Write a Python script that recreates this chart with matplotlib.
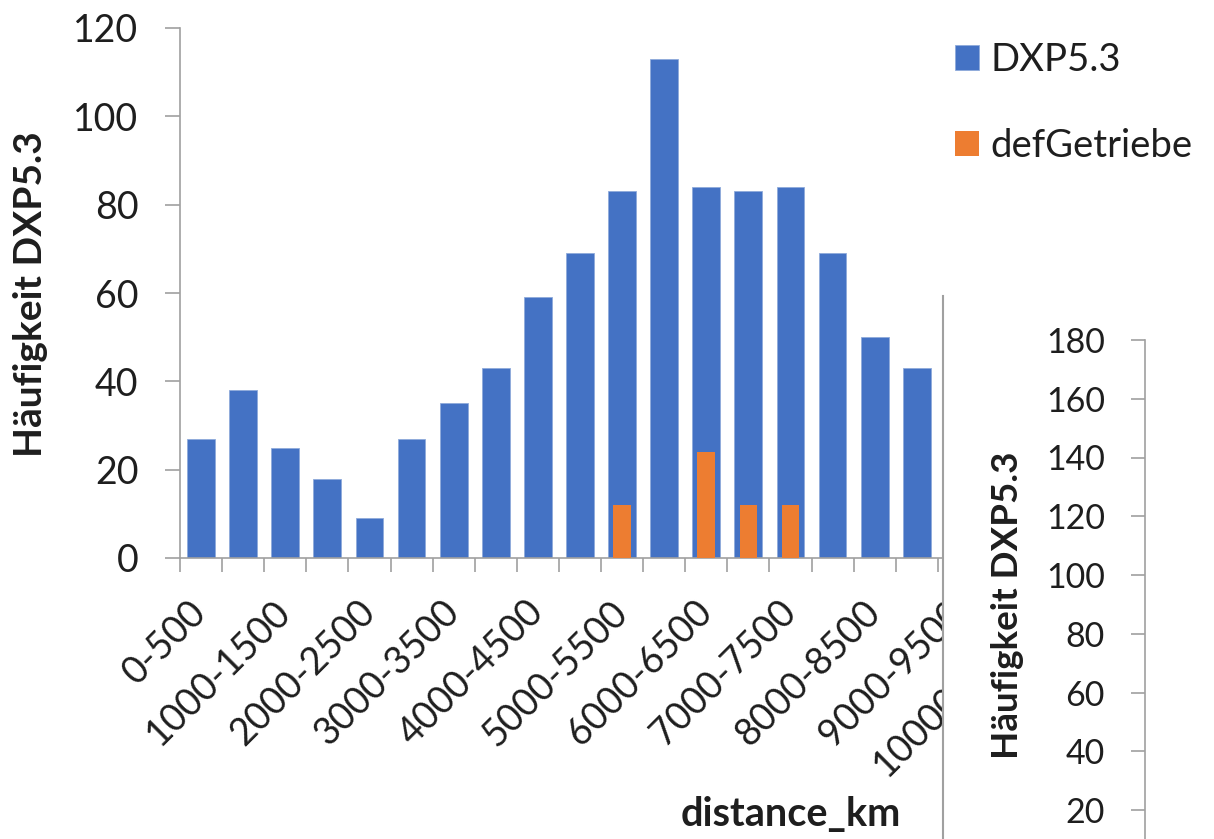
import matplotlib
matplotlib.use('Agg')
import matplotlib.pyplot as plt
import numpy as np

# distance bins (km)
bins = ['0-500', '500-1000', '1000-1500', '1500-2000', '2000-2500',
        '2500-3000', '3000-3500', '3500-4000', '4000-4500', '4500-5000',
        '5000-5500', '5500-6000', '6000-6500', '6500-7000', '7000-7500',
        '7500-8000', '8000-8500', '8500-9000', '9000-9500', '9500-10000',
        '10000-10500']
dxp = [27, 38, 25, 18, 9, 27, 35, 43, 59, 69, 83, 113, 84, 83, 84, 69, 50, 43]
defgetriebe = [0, 0, 0, 0, 0, 0, 0, 0, 0, 0, 12, 0, 24, 12, 12, 0, 0, 0]
yticks_main = [0, 20, 40, 60, 80, 100, 120]
yticks_second = [20, 40, 60, 80, 100, 120, 140, 160, 180]

W, H = 1214, 839
BLUE = '#4472c4'
ORANGE = '#ed7d31'
GRID = '#a0a0a0'
TXT = '#1e1e1e'

plt.rcParams['font.family'] = ['Lato', 'DejaVu Sans']

def rect(x0, y0, x1, y1):
    # pixel box (top-left origin) -> figure fraction
    return [x0 / W, 1 - y1 / H, (x1 - x0) / W, (y1 - y0) / H]

fig = plt.figure(figsize=(W / 100, H / 100), dpi=100)

ax = fig.add_axes(rect(180, 28, 180 + 42.1 * len(bins), 558))
x = np.arange(len(dxp))
ax.bar(x, dxp, width=0.66, color=BLUE, edgecolor='#8eaadb', linewidth=0.6, zorder=2,
       label='DXP5.3')
ax.bar(x, defgetriebe, width=0.42, color=ORANGE, linewidth=0, zorder=3,
       label='defGetriebe')
ax.set_xlim(-0.5, len(bins) - 0.5)
ax.set_ylim(0, 120)
ax.set_yticks(yticks_main)
for s in ['top', 'right']:
    ax.spines[s].set_visible(False)
for s in ['left', 'bottom']:
    ax.spines[s].set_color(GRID)
    ax.spines[s].set_linewidth(1.2)
ax.tick_params(axis='y', length=11, width=1.2, color=GRID, pad=19,
               labelsize=27, labelcolor=TXT)
# tick marks on bin boundaries, labels on every other bin
ax.set_xticks(np.arange(len(bins) + 1) - 0.5)
ax.set_xticklabels([])
ax.tick_params(axis='x', which='major', length=10, width=1.2, color=GRID)
ax.set_xticks(np.arange(0, len(bins), 2), minor=True)
ax.set_xticklabels(bins[::2], minor=True, rotation=45, ha='right', va='center',
                   rotation_mode='anchor')
ax.tick_params(axis='x', which='minor', length=0, pad=35, labelsize=27,
               labelcolor=TXT)

fig.text(31 / W, 1 - 294 / H, 'Häufigkeit DXP5.3', rotation=90, ha='center',
         va='center', fontsize=28, fontweight='bold', color=TXT)
fig.text(791 / W, 1 - 814 / H, 'distance_km', ha='center', va='center',
         fontsize=28.5, fontweight='bold', color=TXT)

fig.legend(loc='upper left', bbox_to_anchor=(955 / W, 1 - 42 / H), frameon=False,
           fontsize=27.5, handlelength=0.63, handleheight=0.63, handletextpad=0.3,
           labelspacing=1.3, borderpad=0, borderaxespad=0, labelcolor=TXT)

# second chart sitting over the lower right corner
panel = fig.add_axes([942.7 / W, -0.1, 0.3, (H - 296) / H + 0.1], zorder=5)
panel.set_facecolor('white')
panel.set_xticks([])
panel.set_yticks([])
for s in ['top', 'right', 'bottom']:
    panel.spines[s].set_visible(False)
panel.spines['left'].set_color(GRID)
panel.spines['left'].set_linewidth(1.5)

ax2 = fig.add_axes(rect(1145, 340, 1185, 868.75), zorder=6)
ax2.patch.set_visible(False)
ax2.set_ylim(0, 180)
ax2.set_yticks(yticks_second)
ax2.set_xticks([])
for s in ['top', 'right', 'bottom']:
    ax2.spines[s].set_visible(False)
ax2.spines['left'].set_color(GRID)
ax2.spines['left'].set_linewidth(1.2)
ax2.tick_params(axis='y', length=10, width=1.2, color=GRID, pad=19,
                labelsize=24.5, labelcolor=TXT)
fig.text(1007 / W, 1 - 605 / H, 'Häufigkeit DXP5.3', rotation=90, ha='center',
         va='center', fontsize=26.5, fontweight='bold', color=TXT, zorder=7)

fig.savefig('out.png', dpi=100)
